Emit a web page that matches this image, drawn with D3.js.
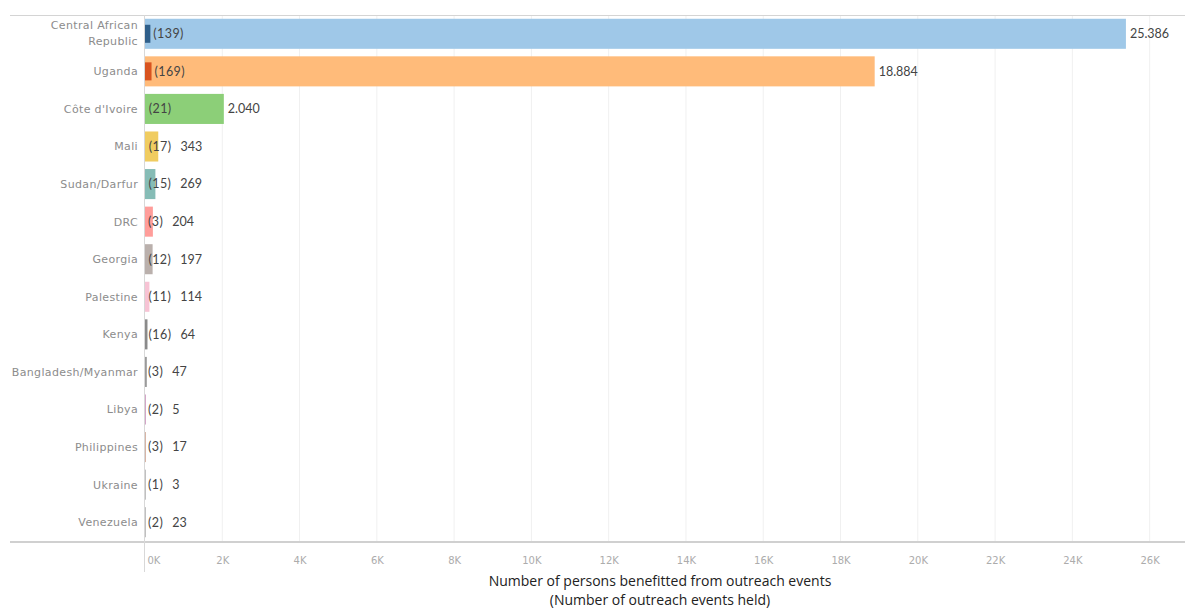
<!DOCTYPE html>
<html>
<head>
<meta charset="utf-8">
<script src="https://cdn.jsdelivr.net/npm/d3@7"></script>
<style>
  body { margin: 0; background: #fff; }
  svg { display: block; font-family: Lato, "Noto Sans", sans-serif; }
</style>
</head>
<body>
<svg id="chart" width="1193" height="610"></svg>
<script>
// data
let countries = ["Central African Republic", "Uganda", "Côte d'Ivoire", "Mali", "Sudan/Darfur", "DRC",
                 "Georgia", "Palestine", "Kenya", "Bangladesh/Myanmar", "Libya", "Philippines", "Ukraine", "Venezuela"];
let persons = [25386, 18884, 2040, 343, 269, 204, 197, 114, 64, 47, 5, 17, 3, 23];
let events  = [139, 169, 21, 17, 15, 3, 12, 11, 16, 3, 2, 3, 1, 2];
let bar_colors   = ["#9fc8e8", "#ffbb7a", "#8ccf78", "#f0cc60", "#86bcb6", "#ff9d9a", "#bab0ac",
                    "#f7c3d4", "#8a8a8a", "#9a9a9a", "#d4a6c8", "#d7b5a6", "#c0c0c0", "#c0c0c0"];
let event_colors = ["#2f5f8a", "#d8531f", "#59a14f", "#b6992d", "#499894", "#e15759", "#79706e",
                    "#d37295", "#666666", "#777777", "#b07aa1", "#9d7660", "#999999", "#999999"];
let x_ticks = [0, 2000, 4000, 6000, 8000, 10000, 12000, 14000, 16000, 18000, 20000, 22000, 24000, 26000];
let axis_title = ["Number of persons benefitted from outreach events", "(Number of outreach events held)"];

let svg = d3.select("#chart");
let pane = { left: 145, right: 1185, top: 15, bottom: 541 };

let x = d3.scaleLinear().domain([0, 26915]).range([pane.left, pane.right]);
let y = d3.scaleBand().domain(countries).range([pane.top, pane.bottom]).paddingInner(0.2).paddingOuter(0.1);

let fmt = d3.formatLocale({ decimal: ",", thousands: ".", grouping: [3], currency: ["", ""] }).format(",d");

// vertical gridlines
svg.append("g")
    .selectAll("line")
    .data(x_ticks.slice(1))
    .enter().append("line")
        .attr("x1", d => x(d)).attr("x2", d => x(d))
        .attr("y1", pane.top).attr("y2", pane.bottom)
        .attr("stroke", "#f0f0f0");

// top rule
svg.append("line")
    .attr("x1", 10).attr("x2", pane.right).attr("y1", pane.top + 0.5).attr("y2", pane.top + 0.5)
    .attr("stroke", "#d4d4d4");

// x axis
let x_axis = d3.axisBottom(x).tickValues(x_ticks).tickSize(0).tickPadding(16)
                .tickFormat(d => (d / 1000) + "K");
let ax = svg.append("g").attr("transform", "translate(0," + pane.bottom + ")").call(x_axis);
ax.attr("font-family", null).attr("font-size", null);
ax.select(".domain").remove();
ax.selectAll("text")
    .attr("fill", "#acacac")
    .style("font-family", "'DejaVu Sans', sans-serif")
    .style("font-size", "10px")
    .attr("text-anchor", d => d === 0 ? "start" : "middle")
    .attr("dx", d => d === 0 ? 2 : 0);

svg.append("line")
    .attr("x1", 10).attr("x2", pane.right).attr("y1", pane.bottom + 1).attr("y2", pane.bottom + 1)
    .attr("stroke", "#d0d0d0").attr("stroke-width", 2);

svg.append("line")
    .attr("x1", pane.left - 0.5).attr("x2", pane.left - 0.5).attr("y1", pane.top).attr("y2", 572)
    .attr("stroke", "#d8d8d8");

// row labels
let rows = svg.append("g").selectAll("g")
    .data(countries)
    .enter().append("g")
        .attr("transform", d => "translate(0," + (y(d) + y.bandwidth() / 2) + ")");

rows.append("text")
    .attr("x", pane.left - 7)
    .attr("text-anchor", "end")
    .style("font-family", "'DejaVu Sans', sans-serif")
    .style("font-size", "11px")
    .attr("letter-spacing", 0.35)
    .attr("fill", "#8c8c8c")
    .each(function(d) {
        let t = d3.select(this);
        let parts = d === "Central African Republic" ? ["Central African", "Republic"] : [d];
        parts.forEach(function(p, i) {
            t.append("tspan")
                .attr("x", pane.left - 7)
                .attr("dy", i === 0 ? (parts.length > 1 ? "-0.4em" : "0.35em") : "1.45em")
                .text(p);
        });
    });

// persons bars
rows.append("rect")
    .attr("x", x(0))
    .attr("y", -y.bandwidth() / 2)
    .attr("width", (d, i) => Math.max(1, x(persons[i]) - x(0)))
    .attr("height", y.bandwidth())
    .attr("fill", (d, i) => bar_colors[i]);

// events bars (same axis, dual measure)
rows.append("rect")
    .attr("x", x(0))
    .attr("y", -y.bandwidth() * 0.3)
    .attr("width", (d, i) => Math.max(0.5, x(events[i]) - x(0)))
    .attr("height", y.bandwidth() * 0.6)
    .attr("fill", (d, i) => event_colors[i])
    .attr("opacity", (d, i) => events[i] > 50 ? 1 : 0);

// labels
rows.each(function(d, i) {
    let g = d3.select(this);
    let ev = g.append("text")
        .attr("x", x(events[i]) + 3)
        .attr("dy", "0.35em")
        .style("font-size", "12.5px")
        .attr("letter-spacing", 0.4)
        .attr("fill", "#444")
        .text("(" + events[i] + ")");
    let ev_end = x(events[i]) + 3 + ev.node().getComputedTextLength();
    g.append("text")
        .attr("x", Math.max(x(persons[i]) + 4, ev_end + 9))
        .attr("dy", "0.35em")
        .style("font-size", "12.5px")
        .attr("fill", "#444")
        .text(fmt(persons[i]));
});

// axis title
svg.append("g").selectAll("text")
    .data(axis_title)
    .enter().append("text")
        .attr("x", (pane.left + pane.right) / 2 - 5)
        .attr("y", (d, i) => 586 + i * 19)
        .attr("text-anchor", "middle")
        .style("font-family", "'Open Sans', sans-serif")
        .style("font-size", "14px")
        .attr("fill", "#222")
        .text(d => d);
</script>
</body>
</html>
